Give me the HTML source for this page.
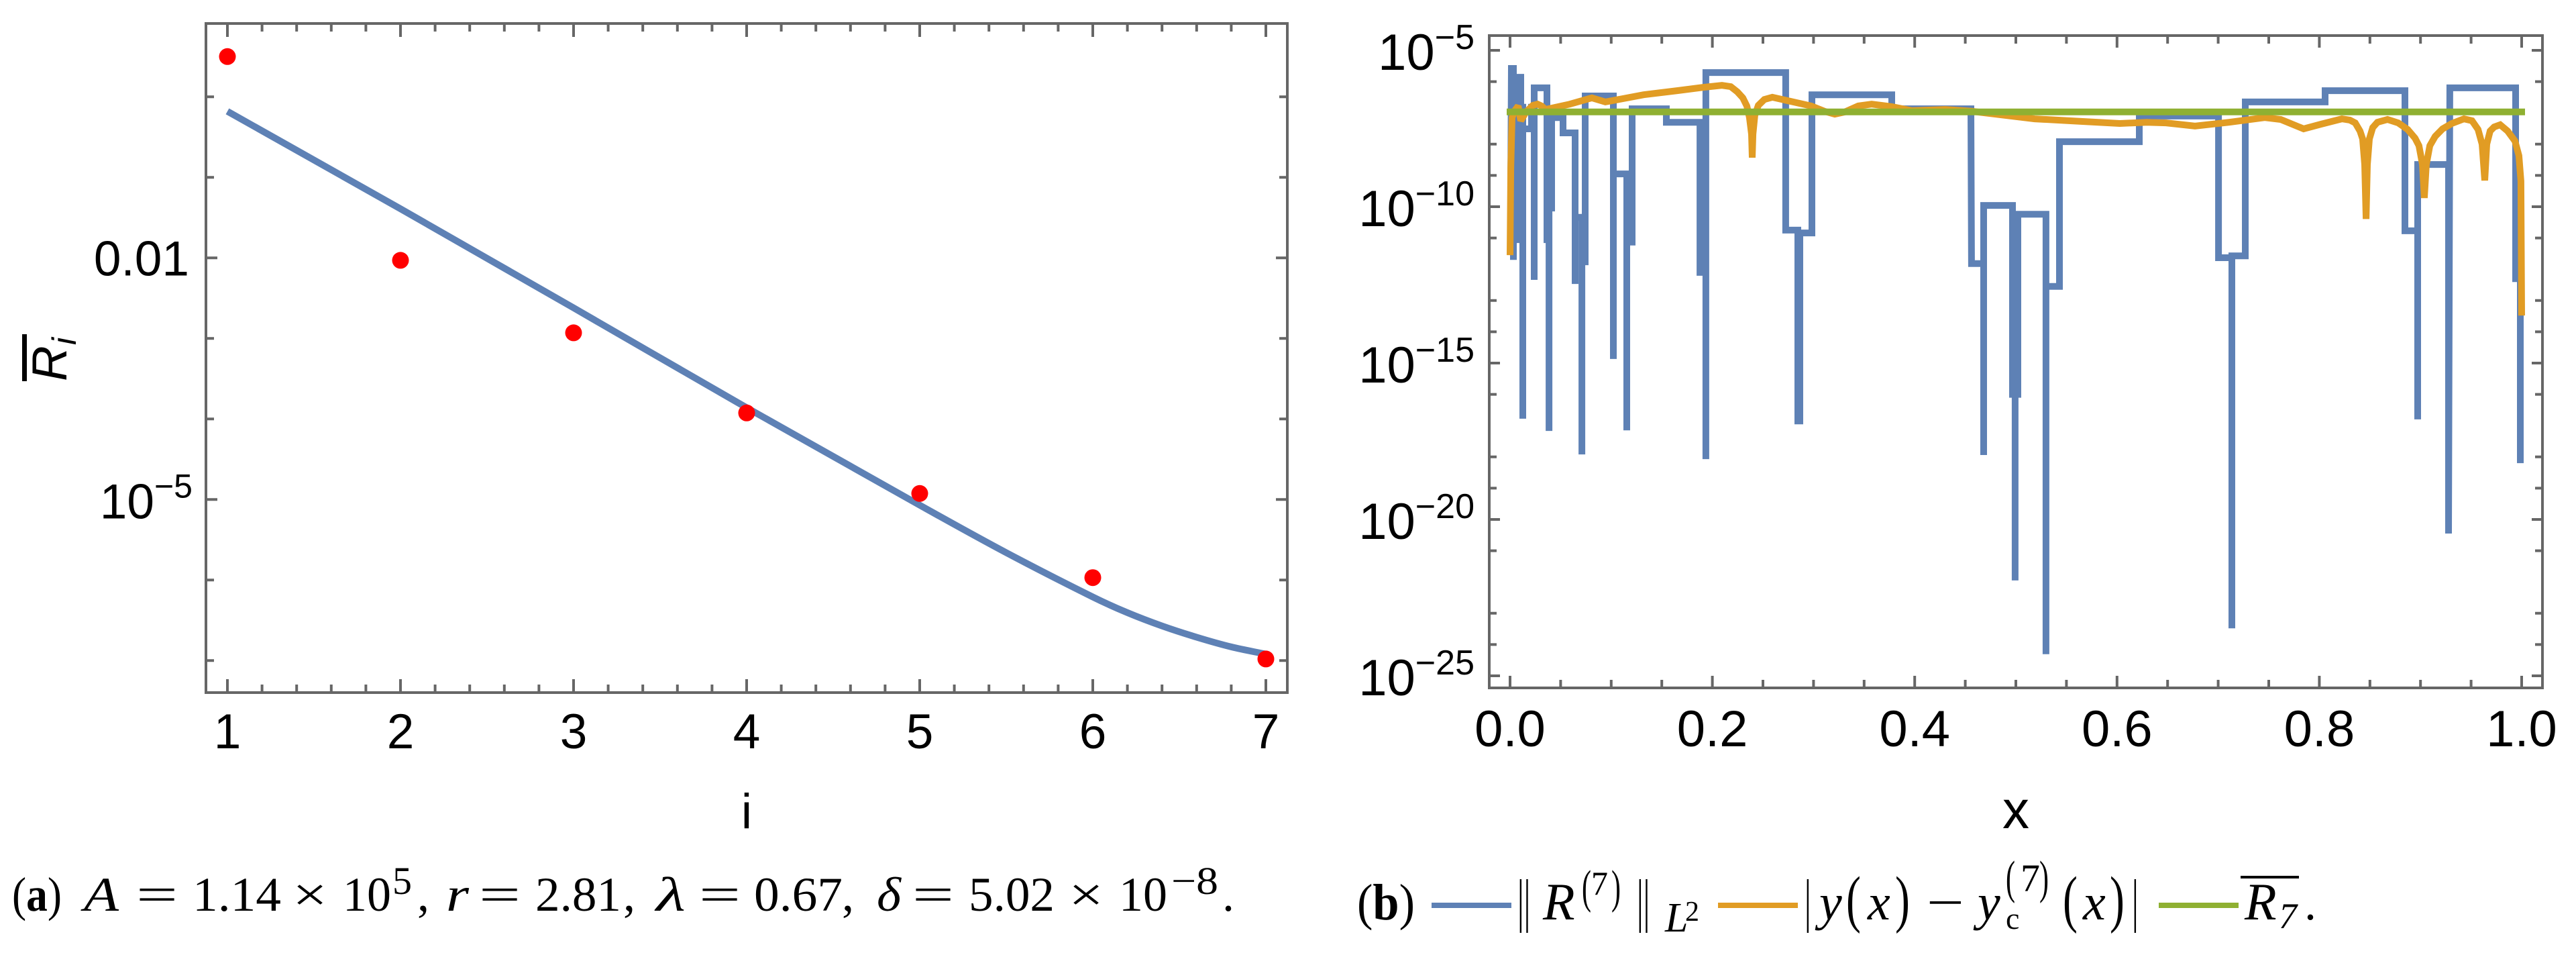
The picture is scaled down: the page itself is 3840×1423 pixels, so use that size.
<!DOCTYPE html>
<html lang="en">
<head>
<meta charset="utf-8">
<title>Residual decay and error plots</title>
<style>
html,body{margin:0;padding:0;background:#fff}
svg{display:block}
.sans{font-family:"Liberation Sans",Arial,sans-serif;fill:#000}
.cap{font-family:"Liberation Serif","Times New Roman",serif;font-size:72px;fill:#000}
.it{font-style:italic}
.b{font-weight:bold}
</style>
</head>
<body>
<svg id="figure" xmlns="http://www.w3.org/2000/svg" width="3840" height="1423" viewBox="0 0 3840 1423">
  <rect width="3840" height="1423" fill="#fff"/>
  <g id="panel-a"></g>
  <g id="panel-b"></g>

  <g>
    <rect x="33" y="498" width="7" height="70" fill="#000"/>
    <text class="sans it" font-size="73" transform="translate(99,568) rotate(-90)">R</text>
    <text class="sans it" font-size="50" transform="translate(113,514) rotate(-90)">i</text>
  </g>
  <text class="sans" font-size="73" text-anchor="middle" x="1113" y="1234">i</text>
  <text class="sans" font-size="80" text-anchor="middle" x="3005" y="1234">x</text>

  <g class="cap">
    <text x="18" y="1357" textLength="74" lengthAdjust="spacingAndGlyphs">(<tspan class="b">a</tspan>)</text>
    <text x="125" y="1357" class="it" textLength="52" lengthAdjust="spacingAndGlyphs">A</text>
    <text x="203" y="1357" textLength="62" lengthAdjust="spacingAndGlyphs">=</text>
    <text x="287" y="1357" textLength="132" lengthAdjust="spacingAndGlyphs">1.14</text>
    <text x="436" y="1357" textLength="52" lengthAdjust="spacingAndGlyphs">×</text>
    <text x="511" y="1357" textLength="72" lengthAdjust="spacingAndGlyphs">10</text>
    <text x="585" y="1332" font-size="58">5</text>
    <text x="622" y="1357">,</text>
    <text x="665" y="1357" class="it" textLength="34" lengthAdjust="spacingAndGlyphs">r</text>
    <text x="714" y="1357" textLength="62" lengthAdjust="spacingAndGlyphs">=</text>
    <text x="798" y="1357" textLength="128" lengthAdjust="spacingAndGlyphs">2.81</text>
    <text x="929" y="1357">,</text>
    <text x="978" y="1357" class="it" textLength="44" lengthAdjust="spacingAndGlyphs">λ</text>
    <text x="1042" y="1357" textLength="62" lengthAdjust="spacingAndGlyphs">=</text>
    <text x="1124" y="1357" textLength="132" lengthAdjust="spacingAndGlyphs">0.67</text>
    <text x="1255" y="1357">,</text>
    <text x="1307" y="1357" class="it" textLength="36" lengthAdjust="spacingAndGlyphs">δ</text>
    <text x="1360" y="1357" textLength="62" lengthAdjust="spacingAndGlyphs">=</text>
    <text x="1444" y="1357" textLength="128" lengthAdjust="spacingAndGlyphs">5.02</text>
    <text x="1593" y="1357" textLength="52" lengthAdjust="spacingAndGlyphs">×</text>
    <text x="1668" y="1357" textLength="72" lengthAdjust="spacingAndGlyphs">10</text>
    <text x="1746" y="1332" font-size="58" textLength="70" lengthAdjust="spacingAndGlyphs">−8</text>
    <text x="1822" y="1357">.</text>
  </g>

  <g class="cap">
    <text x="2023" y="1370" font-size="76" textLength="86" lengthAdjust="spacingAndGlyphs">(<tspan class="b">b</tspan>)</text>
    <rect x="2134" y="1345" width="119" height="8" fill="#5E81B5"/>
    <text font-size="88" transform="translate(2262,1371) scale(.55,1)">||</text>
    <text x="2300" y="1370" font-size="78" class="it">R</text>
    <text font-size="70" transform="translate(2358,1345) scale(.6,1)">(</text>
    <text x="2372" y="1333" font-size="50">7</text>
    <text font-size="70" transform="translate(2402,1345) scale(.6,1)">)</text>
    <text font-size="88" transform="translate(2440,1371) scale(.55,1)">||</text>
    <text x="2482" y="1388" font-size="62" class="it">L</text>
    <text x="2512" y="1372" font-size="42">2</text>
    <rect x="2561" y="1345" width="119" height="8" fill="#E19C24"/>
    <text font-size="88" transform="translate(2690,1371) scale(.55,1)">|</text>
    <text x="2712" y="1370" font-size="76" class="it">y</text>
    <text font-size="94" transform="translate(2752,1371) scale(.7,1)">(</text>
    <text x="2784" y="1370" font-size="76" class="it">x</text>
    <text font-size="94" transform="translate(2825,1371) scale(.7,1)">)</text>
    <text x="2872" y="1370" font-size="76" textLength="56" lengthAdjust="spacingAndGlyphs">−</text>
    <text x="2948" y="1370" font-size="76" class="it">y</text>
    <text x="2990" y="1384" font-size="46">c</text>
    <text font-size="70" transform="translate(2990,1331) scale(.6,1)">(</text>
    <text x="3012" y="1328" font-size="58">7</text>
    <text font-size="70" transform="translate(3040,1331) scale(.6,1)">)</text>
    <text font-size="94" transform="translate(3075,1371) scale(.7,1)">(</text>
    <text x="3105" y="1370" font-size="76" class="it">x</text>
    <text font-size="94" transform="translate(3145,1371) scale(.7,1)">)</text>
    <text font-size="88" transform="translate(3178,1371) scale(.55,1)">|</text>
    <rect x="3218" y="1345" width="119" height="8" fill="#8FB032"/>
    <rect x="3340" y="1305" width="87" height="4" fill="#000"/>
    <text x="3346" y="1370" font-size="78" class="it">R</text>
    <text x="3397" y="1383" font-size="54" class="it">7</text>
    <text x="3435" y="1370">.</text>
  </g>
</svg>
<script>
// ---- Panel (a) data: values are log10 of the plotted quantity ----
const aCategories = [1, 2, 3, 4, 5, 6, 7];
const aPointExponents = [0.5, -2.03, -2.93, -3.925, -4.925, -5.97, -6.98];
const aCurveI = [1, 2, 3, 4, 5, 5.5, 6, 6.2, 6.4, 6.6, 6.8, 7];
const aCurveExponents = [-0.18, -1.39, -2.62, -3.86, -5.07, -5.66, -6.21, -6.405, -6.57, -6.71, -6.83, -6.92];
const aXTickLabels = ['1', '2', '3', '4', '5', '6', '7'];
const aYMinorExponents = [0, -1, -3, -4, -6, -7];
const aYMajorExponents = [-2, -5];
const aYTickBases = ['0.01', '10'];
const aYTickPowers = ['', '−5'];

// ---- Panel (b) data: x in [0,1], values are log10 of the plotted quantity ----
const bResidualX = [
  .0007,.0013,.0033,.0033,.0033,.0066,.0066,.0066,.0106,.0106,.0126,.0126,.0126,.0212,.0212,.0239,.0239,.0239,
  .0365,.0365,.0365,.0385,.0385,.0385,.0411,.0411,.0411,.0524,.0524,.0643,.0643,.0643,.0710,.0710,.0710,.0743,.0743,.0743,
  .1021,.1021,.1021,.1154,.1154,.1154,.1207,.1207,.1207,.1545,.1545,.1877,.1877,.1936,.1936,.1936,
  .2725,.2725,.2845,.2845,.2865,.2865,.2984,.2984,.3773,.3773,.4556,.4562,.4682,.4682,.4682,
  .4967,.4967,.4993,.4993,.4993,.5020,.5020,.5298,.5298,.5298,.5431,.5431,.6220,.6220,.7003,.7003,
  .7135,.7135,.7135,.7268,.7268,.8057,.8057,.8846,.8846,.8972,.8972,.8972,.9277,.9277,.9290,.9940,.9940,.9987,.9987];
const bResidualExponents = [
  -9.36,-5.58,-5.58,-11.70,-5.86,-5.86,-11.16,-5.86,-5.86,-6.82,-6.82,-16.78,-7.51,-7.51,-6.82,-6.82,-12.34,-6.20,
  -6.20,-11.16,-7.15,-7.15,-17.17,-7.15,-7.15,-10.15,-7.15,-7.15,-7.64,-7.64,-12.47,-10.34,-10.34,-17.92,-10.34,-10.34,-11.87,-6.46,
  -6.46,-14.87,-8.95,-8.95,-17.15,-8.95,-8.95,-11.24,-6.87,-6.87,-7.30,-7.30,-12.1,-12.1,-18.07,-5.71,
  -5.71,-10.75,-10.75,-16.85,-16.85,-10.84,-10.84,-6.42,-6.42,-6.87,-6.87,-11.82,-11.82,-17.94,-9.96,
  -9.96,-16.0,-16.0,-21.95,-16.0,-16.0,-10.24,-10.24,-24.31,-12.55,-12.55,-7.92,-7.92,-7.10,-7.10,-11.63,
  -11.63,-23.48,-11.57,-11.57,-6.65,-6.65,-6.29,-6.29,-10.77,-10.77,-16.80,-8.65,-8.65,-20.45,-6.20,-6.20,-12.30,-12.30,-18.20];
const bErrorX = [
  0,.0007,.0020,.0046,.0080,.0106,.0159,.0225,.0272,.0312,.0351,.0590,.0809,.0942,.1320,.1651,.1916,.2095,
  .2182,.2248,.2301,.2341,.2367,.2387,.2394,.2401,.2420,.2454,.2514,.2593,.2977,.3110,.3210,.3309,.3442,
  .3574,.3773,.3972,.4304,.4569,.5186,.5630,.6028,.6293,.6485,.6771,.7109,.7460,.7619,.7845,.8017,.8223,
  .8302,.8355,.8402,.8428,.8448,.8462,.8475,.8495,.8528,.8574,.8674,.8780,.8873,.8946,.8985,.9019,.9038,
  .9058,.9092,.9145,.9218,.9310,.9430,.9509,.9569,.9609,.9635,.9655,.9688,.9728,.9788,.9861,.9934,.9973,
  .9993,1.0];
const bErrorExponents = [
  -11.55,-8.76,-7.15,-6.93,-6.78,-7.25,-6.97,-6.76,-6.72,-6.78,-6.89,-6.72,-6.52,-6.65,-6.42,-6.29,-6.18,-6.12,
  -6.16,-6.33,-6.52,-6.78,-7.15,-7.68,-8.43,-7.68,-7.08,-6.76,-6.57,-6.50,-6.78,-6.95,-7.04,-6.97,-6.78,
  -6.72,-6.80,-6.93,-6.89,-6.95,-7.19,-7.27,-7.34,-7.30,-7.32,-7.42,-7.30,-7.15,-7.21,-7.51,-7.36,-7.19,
  -7.23,-7.32,-7.58,-7.83,-8.65,-10.39,-8.65,-7.83,-7.47,-7.30,-7.21,-7.32,-7.53,-7.81,-8.05,-8.65,-9.72,
  -8.65,-8.05,-7.75,-7.51,-7.34,-7.19,-7.25,-7.53,-8.00,-9.16,-8.00,-7.58,-7.45,-7.38,-7.58,-7.90,-8.37,
  -9.18,-13.48];
const bMeanX = [0, 1];
const bMeanExponents = [-6.97, -6.97];
const bXMajorTicks = [0, 0.2, 0.4, 0.6, 0.8, 1];
const bXTickLabels = ['0.0', '0.2', '0.4', '0.6', '0.8', '1.0'];
const bXMinorTicks = [0.05, 0.1, 0.15, 0.25, 0.3, 0.35, 0.45, 0.5, 0.55, 0.65, 0.7, 0.75, 0.85, 0.9, 0.95];
const bYMajorExponents = [-5, -10, -15, -20, -25];
const bYTickPowers = ['−5', '−10', '−15', '−20', '−25'];
const bYMinorExponents = [-6, -8, -9, -11, -13, -14, -16, -18, -19, -21, -23, -24];

// ---- Axis functions ----
const ax = i => 339 + (i - 1) * 258;
const ay = e => 384.3 + (-2 - e) * 120;
const bx = v => 2251 + v * 1508;
const by = e => 75 + (-5 - e) * 46.6;

const NS = 'http://www.w3.org/2000/svg';
const FRAME = '#666666';
const panelA = document.getElementById('panel-a');
const panelB = document.getElementById('panel-b');

function make(tag, attrs, parent) {
  const n = document.createElementNS(NS, tag);
  for (const k in attrs) n.setAttribute(k, attrs[k]);
  parent.appendChild(n);
  return n;
}
function pathFrom(xs, ys, fx, fy) {
  return xs.map((v, i) => (i ? 'L' : 'M') + fx(v).toFixed(1) + ' ' + fy(ys[i]).toFixed(1)).join(' ');
}
// Smooth cubic through the mapped points, with slopes taken from neighbours.
function smoothPathFrom(xs, ys, fx, fy) {
  const p = xs.map((v, i) => [fx(v), fy(ys[i])]);
  let d = 'M' + p[0][0].toFixed(1) + ' ' + p[0][1].toFixed(1);
  for (let i = 0; i < p.length - 1; i++) {
    const p0 = p[Math.max(i - 1, 0)], p1 = p[i], p2 = p[i + 1], p3 = p[Math.min(i + 2, p.length - 1)];
    const t = (p2[0] - p1[0]) / 3;
    const s1 = (p2[1] - p0[1]) / (p2[0] - p0[0]);
    const s2 = (p3[1] - p1[1]) / (p3[0] - p1[0]);
    d += ' C' + (p1[0] + t).toFixed(1) + ' ' + (p1[1] + s1 * t).toFixed(1) + ' ' +
         (p2[0] - t).toFixed(1) + ' ' + (p2[1] - s2 * t).toFixed(1) + ' ' +
         p2[0].toFixed(1) + ' ' + p2[1].toFixed(1);
  }
  return d;
}
function drawFrame(parent, l, t, r, b) {
  const f = make('rect', {x: l, y: t, width: r - l, height: b - t, fill: 'none', stroke: FRAME, 'stroke-width': 4}, parent);
  
  
}
function xTick(parent, x, t, b, len) {
  const d = 'M' + x + ' ' + t + 'v' + len + 'M' + x + ' ' + b + 'v' + (-len);
  const p = make('path', {d: d, stroke: FRAME, 'stroke-width': 4, fill: 'none'}, parent);
  
  
}
function yTick(parent, y, l, r, len) {
  const d = 'M' + l + ' ' + y + 'h' + len + 'M' + r + ' ' + y + 'h' + (-len);
  const p = make('path', {d: d, stroke: FRAME, 'stroke-width': 4, fill: 'none'}, parent);
  
  
}
function tickLabel(parent, x, y, txt, size, anchor) {
  const t = make('text', {x: x, y: y, 'font-size': size, 'text-anchor': anchor, class: 'sans'}, parent);
  t.textContent = txt;
  
  
}
function powerLabel(parent, x, y, base, power, size, supSize) {
  const t = make('text', {x: x, y: y, 'text-anchor': 'end', class: 'sans'}, parent);
  
  
  const a = make('tspan', {'font-size': size}, t);
  a.textContent = base;
  const s = make('tspan', {'font-size': supSize, dy: -31}, t);
  s.textContent = power;
}

// ---- Panel (a) ----
const aL = 307, aT = 35, aR = 1919, aB = 1032;
aCategories.forEach((c, i) => {
  xTick(panelA, ax(c), aT, aB, 20);
  tickLabel(panelA, ax(c), 1115, aXTickLabels[i], 73, 'middle');
  if (i < aCategories.length - 1) {
    [0.2, 0.4, 0.6, 0.8].forEach(f => xTick(panelA, ax(c + f), aT, aB, 12));
  }
});
aYMinorExponents.forEach(e => yTick(panelA, ay(e), aL, aR, 12));
aYMajorExponents.forEach((e, i) => {
  yTick(panelA, ay(e), aL, aR, 17);
  if (aYTickPowers[i]) {
    powerLabel(panelA, 287, ay(e) + 28.4, aYTickBases[i], aYTickPowers[i], 73, 50);
  } else {
    tickLabel(panelA, 282, ay(e) + 26, aYTickBases[i], 73, 'end');
  }
});
const aCurve = make('path', {d: smoothPathFrom(aCurveI, aCurveExponents, ax, ay), fill: 'none', stroke: '#5E81B5', 'stroke-width': 10, 'stroke-linejoin': 'round'}, panelA);


aCategories.forEach((c, i) => {
  const dot = make('circle', {cx: ax(c), cy: ay(aPointExponents[i]), r: 12.5, fill: '#FF0000'}, panelA);
  
  
});
drawFrame(panelA, aL, aT, aR, aB);

// ---- Panel (b) ----
const bL = 2220, bT = 53, bR = 3790, bB = 1025;
bXMajorTicks.forEach((v, i) => {
  xTick(panelB, bx(v), bT, bB, 18);
  tickLabel(panelB, bx(v), 1112, bXTickLabels[i], 76, 'middle');
});
bXMinorTicks.forEach(v => xTick(panelB, bx(v), bT, bB, 12));
bYMajorExponents.forEach((e, i) => {
  yTick(panelB, by(e), bL, bR, 16);
  powerLabel(panelB, 2198, by(e) + 29, '10', bYTickPowers[i], 76, 52);
});
bYMinorExponents.forEach(e => yTick(panelB, by(e), bL, bR, 11));

const residual = make('path', {d: pathFrom(bResidualX, bResidualExponents, bx, by), fill: 'none', stroke: '#5E81B5', 'stroke-width': 10, 'stroke-linejoin': 'miter'}, panelB);


const errorLine = make('path', {d: pathFrom(bErrorX, bErrorExponents, bx, by), fill: 'none', stroke: '#E19C24', 'stroke-width': 10, 'stroke-linejoin': 'miter', 'stroke-miterlimit': 2}, panelB);


const meanLine = make('path', {d: pathFrom(bMeanX, bMeanExponents, bx, by), fill: 'none', stroke: '#8FB032', 'stroke-width': 10, 'stroke-linecap': 'square'}, panelB);


drawFrame(panelB, bL, bT, bR, bB);
</script>
</body>
</html>
